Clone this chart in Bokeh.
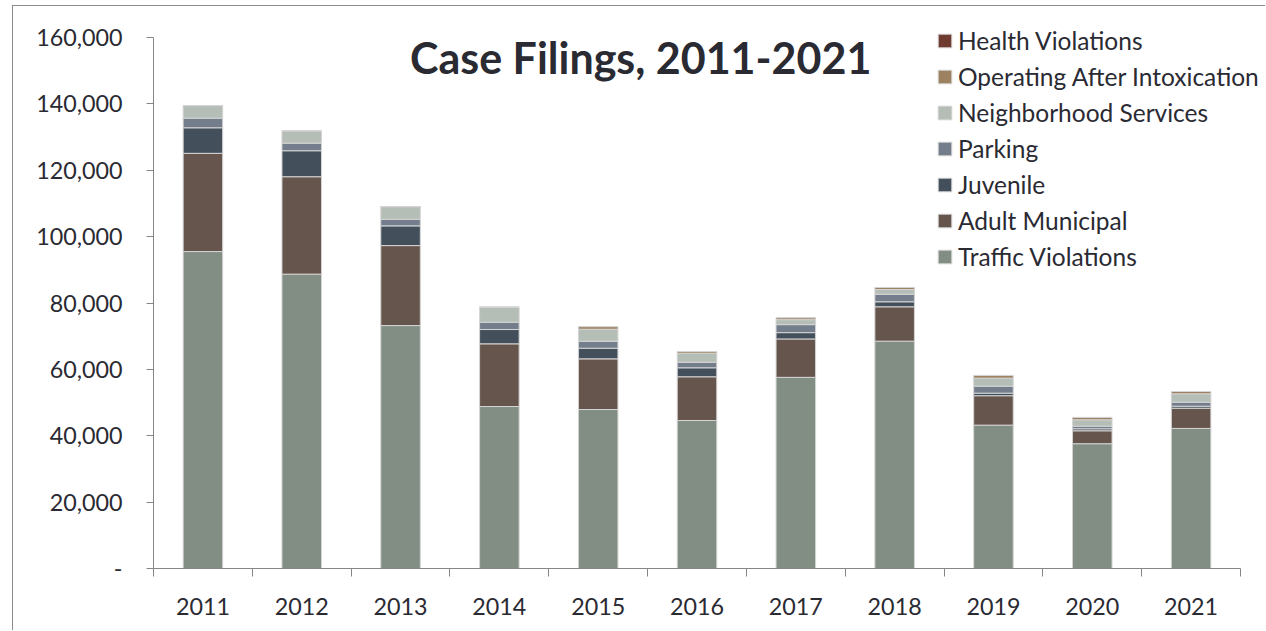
from bokeh.plotting import figure
from bokeh.models import (ColumnDataSource, FixedTicker, NumeralTickFormatter, Legend,
                          LegendItem, Label, Range1d)
from bokeh.embed import file_html
from bokeh.resources import INLINE

years = ["2011", "2012", "2013", "2014", "2015", "2016", "2017", "2018", "2019", "2020", "2021"]
traffic = [95500, 88700, 73200, 48800, 47900, 44600, 57600, 68500, 43200, 37600, 42200]
adult = [29600, 29350, 24100, 18900, 15270, 13170, 11570, 10360, 8860, 3900, 6100]
juvenile = [7700, 7830, 5940, 4310, 3200, 2710, 1900, 1510, 780, 600, 600]
parking = [2900, 2290, 1990, 2200, 2110, 1690, 2410, 2290, 2110, 790, 1210]
neighborhood = [3800, 3740, 3820, 4520, 3610, 2710, 1500, 1410, 2410, 1920, 2530]
oai = [0, 0, 0, 0, 810, 510, 610, 610, 810, 700, 690]
health = [0, 0, 0, 0, 0, 0, 0, 0, 0, 0, 0]

series_names = ["Traffic Violations", "Adult Municipal", "Juvenile", "Parking",
                "Neighborhood Services", "Operating After Intoxication", "Health Violations"]
series_keys = ["traffic", "adult", "juvenile", "parking", "neighborhood", "oai", "health"]
colors = ["#828E84", "#66554C", "#434F5B", "#737D8C", "#B5BDB7", "#9C8260", "#6F3B30"]
y_ticks = list(range(0, 160001, 20000))

FONT = "Lato"
TXT = "#2a2a33"

n = len(years)
centers = [i + 0.5 for i in range(n)]
src = ColumnDataSource(dict(x=centers, traffic=traffic, adult=adult, juvenile=juvenile,
                            parking=parking, neighborhood=neighborhood, oai=oai, health=health))

p = figure(width=1253, height=625, output_backend="svg", toolbar_location=None,
           x_range=Range1d(0, 11.263), y_range=Range1d(0, 166630),
           min_border_left=140, min_border_right=0, min_border_top=9, min_border_bottom=63)
p.margin = (5, 0, 0, 12)
p.styles = {"border-left": "1px solid #8c8c8c", "border-top": "1px solid #8c8c8c"}

renderers = p.vbar_stack(series_keys, x="x", width=0.4, color=colors, source=src,
                         line_color="#d4d4d4", line_width=1)

p.xgrid.visible = False
p.ygrid.visible = False
p.outline_line_color = None
p.background_fill_color = "white"
p.border_fill_color = "white"

# y axis
ya = p.yaxis[0]
ya.ticker = FixedTicker(ticks=y_ticks, minor_ticks=[])
ya.bounds = (0, 160000)
ya.formatter = NumeralTickFormatter(format="0,0")
ya.major_label_overrides = {0: "-"}
ya.axis_line_color = "#868686"
ya.major_tick_line_color = "#868686"
ya.major_tick_out = 7
ya.major_tick_in = 0
ya.minor_tick_line_color = None
ya.major_label_standoff = 24
ya.major_label_text_font = FONT
ya.major_label_text_font_size = "23.3px"
ya.major_label_text_color = TXT

# x axis
xa = p.xaxis[0]
xa.ticker = FixedTicker(ticks=centers, minor_ticks=list(range(0, n + 1)))
xa.bounds = (0, n)
xa.major_label_overrides = {c: y for c, y in zip(centers, years)}
xa.axis_line_color = "#868686"
xa.major_tick_out = 0
xa.major_tick_in = 0
xa.major_tick_line_color = None
xa.minor_tick_line_color = "#868686"
xa.minor_tick_out = 8
xa.minor_tick_in = 0
xa.major_label_standoff = 21
xa.major_label_text_font = FONT
xa.major_label_text_font_size = "23.3px"
xa.major_label_text_color = TXT

# legend (top entry = last series)
items = [LegendItem(label=nm, renderers=[r]) for nm, r in zip(series_names, renderers)][::-1]
legend = Legend(items=items, location=(783, 297), orientation="vertical",
                label_text_font=FONT, label_text_font_size="24.5px", label_text_color=TXT,
                glyph_width=17, glyph_height=17, label_height=26, spacing=7,
                label_standoff=5, padding=0, margin=0,
                background_fill_alpha=0, border_line_color=None)
p.add_layout(legend, "center")

title = Label(x=4.93, y=154000, text="Case Filings, 2011-2021", text_align="center",
              text_baseline="middle", text_font=FONT, text_font_style="bold",
              text_font_size="43px", text_color=TXT)
p.add_layout(title)

open("out.html", "w").write(file_html(p, INLINE))
